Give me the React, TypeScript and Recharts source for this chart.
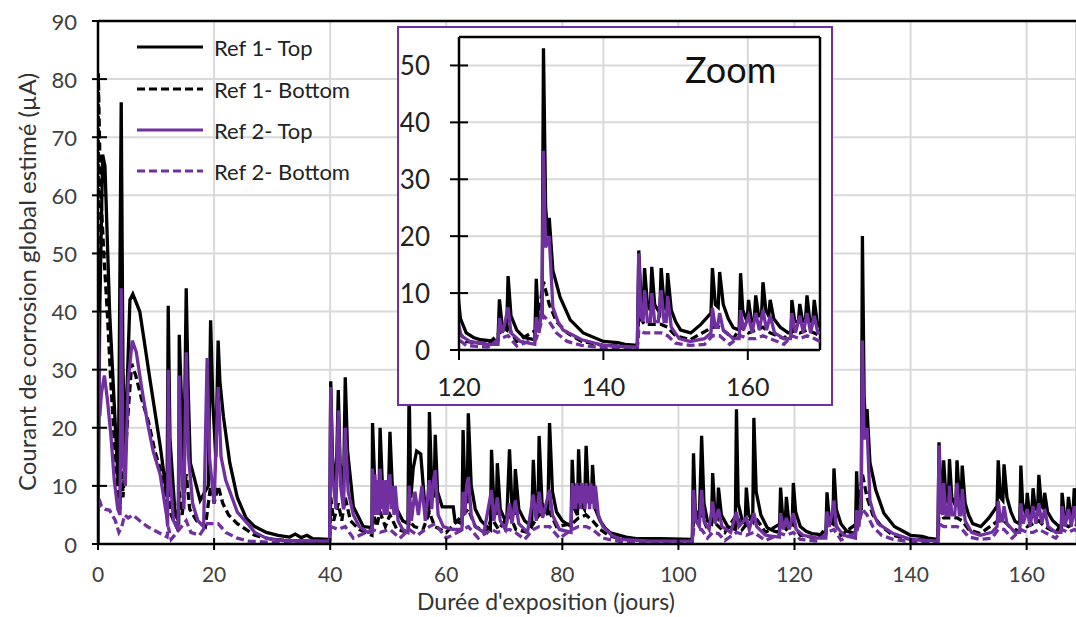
import { LineChart, Line, XAxis, YAxis, CartesianGrid, ReferenceLine } from "recharts";

const PURPLE = "#7030A0";
const FONT = "Lato, 'Open Sans', sans-serif";

const xTicks = [0, 20, 40, 60, 80, 100, 120, 140, 160];
const yTicks = [0, 10, 20, 30, 40, 50, 60, 70, 80, 90];
const zoomXTicks = [120, 140, 160];
const zoomYTicks = [0, 10, 20, 30, 40, 50];

const names = ["Ref 1- Top", "Ref 1- Bottom", "Ref 2- Top", "Ref 2- Bottom"];

// [jour, µA]
const ref1Top: [number, number][] = [
  [0, 0], [0.3, 40], [0.8, 67], [1.2, 65], [2.0, 40], [2.9, 22], [3.5, 10], [4.0, 76], [4.3, 30],
  [4.7, 17], [5.5, 42], [6.0, 43], [7.2, 40], [9.0, 28], [10.7, 17], [11.9, 8], [12.1, 41], [12.4, 18],
  [13.3, 5], [13.9, 4], [14.0, 36], [14.3, 27], [14.8, 13], [15.2, 44], [15.5, 28], [15.9, 14], [17.6, 7.5],
  [19.0, 10], [19.4, 38.5], [19.8, 24], [20.3, 15], [20.7, 35], [21.0, 28], [21.6, 22], [22.7, 14], [24, 8],
  [25.5, 4.5], [27, 3], [29, 2], [31, 1.5], [33, 1.2], [34, 1.7], [35, 1.1], [36, 1.5], [37, 0.9],
  [39.9, 0.8], [40.1, 28], [40.4, 15], [41.0, 9], [41.4, 26.5], [41.7, 14], [42.3, 9], [42.6, 28.7],
  [43.0, 16], [44, 6.4], [45.7, 3], [47.2, 2.8], [47.3, 20.8], [47.7, 10], [48.4, 7], [48.6, 20],
  [49.0, 10], [50.0, 7], [50.3, 19.3], [50.7, 10], [51.5, 6], [52.5, 4], [53.4, 3.5], [53.6, 27],
  [53.9, 8], [54.3, 13], [54.9, 16], [55.6, 15.5], [56.2, 8], [56.9, 5], [57.1, 22.7], [57.5, 10],
  [57.9, 8], [58.1, 18.8], [58.5, 9], [59.3, 6.4], [61.2, 6.4], [61.5, 4], [62.7, 3.5], [62.9, 19.6],
  [63.2, 9], [63.6, 7], [63.8, 22.5], [64.3, 10], [65, 6], [66, 4], [67, 3], [67.6, 2.5], [67.8, 16.2],
  [68.2, 7], [68.6, 5], [68.8, 13.9], [69.3, 6], [70.4, 3.5], [70.9, 16.3], [71.3, 7], [71.7, 5],
  [71.9, 12.9], [72.5, 6], [73.5, 4], [74.7, 3], [75.0, 14.5], [75.4, 6], [75.8, 5], [76.0, 18.6],
  [76.5, 7], [77.5, 5], [77.8, 20.8], [78.3, 9], [79, 5.5], [80, 4], [81.5, 3], [81.7, 14.5],
  [82.1, 6], [82.6, 5], [82.8, 16.3], [83.2, 7], [83.8, 6], [84.1, 16.9], [84.5, 8], [85.0, 7],
  [85.2, 13.6], [85.7, 6], [86.5, 4], [87.3, 2.8], [88.3, 1.9], [91, 1.2], [93, 0.9], [97, 0.9],
  [102.4, 0.8], [102.6, 15.6], [102.9, 6], [103.6, 4], [104.0, 18.6], [104.4, 7], [105.0, 4], [105.7, 3.5],
  [105.9, 12.2], [106.3, 5], [106.7, 4.5], [106.9, 9.7], [107.4, 5], [108.5, 3], [109.8, 2.5], [110.0, 23.2],
  [110.3, 7], [111.0, 4], [111.5, 3.5], [111.7, 9.7], [112.1, 5], [112.8, 4], [113.0, 21.7], [113.4, 9],
  [114.2, 5], [115.3, 2.8], [116.5, 2.2], [117.4, 2], [117.6, 9.7], [118.0, 4], [118.4, 3.5], [118.6, 8.1],
  [119.0, 4], [119.6, 3.5], [119.8, 10.5], [120.2, 5.5], [121, 3], [122, 2.2], [123, 1.8], [124.5, 1.6],
  [125.4, 1.7], [125.6, 8.9], [126.0, 4], [126.6, 3.5], [126.8, 13], [127.2, 6], [128, 3.5], [129, 2.2],
  [130.5, 1.8], [130.7, 12.5], [131.0, 5], [131.5, 6], [131.7, 53], [132.0, 25], [132.3, 20], [132.5, 23.2],
  [133.0, 14], [134.0, 9.3], [135.4, 5.3], [137.2, 3], [140, 1.5], [142, 1.3], [143, 1.0], [144.7, 0.8],
  [144.9, 17.5], [145.2, 9], [145.5, 7], [145.7, 14.4], [146.1, 8], [146.5, 7], [146.7, 14.6], [147.1, 8],
  [147.8, 6.5], [148.0, 14.4], [148.4, 8], [148.7, 7], [148.9, 13.5], [149.4, 7], [150.0, 5], [150.7, 3.5],
  [152.1, 3], [153.5, 4.5], [154.9, 6.5], [155.1, 14.4], [155.5, 8], [155.9, 7.5], [156.1, 13.7], [156.6, 8],
  [157.3, 5.5], [158.0, 3.9], [158.8, 3.5], [159.0, 13.5], [159.3, 7], [159.9, 5], [160.1, 8.8], [160.5, 5],
  [160.9, 5.5], [161.1, 9.6], [161.5, 6], [161.9, 6], [162.1, 11.9], [162.5, 7], [162.9, 6], [163.1, 8.8],
  [163.6, 5.5], [164.5, 4], [165.6, 3], [166.0, 3], [166.1, 8.8], [166.5, 5], [167.0, 5], [167.2, 8.1],
  [167.6, 5], [168.0, 5.5], [168.2, 9.6], [168.6, 5], [169.0, 5], [169.2, 8.8], [169.6, 5], [170, 4],
];

const ref1Bottom: [number, number][] = [
  [0, 0], [0.05, 81], [0.4, 62], [1.0, 50], [1.6, 40], [2.2, 28], [2.8, 18], [3.4, 10], [3.8, 6],
  [4.0, 20], [4.3, 8], [5.0, 20], [5.8, 31], [6.5, 29], [7.5, 25], [8.7, 21], [9.8, 16], [11.0, 12],
  [11.9, 7], [12.1, 12], [12.6, 5], [13.5, 3], [14.0, 9], [14.5, 5], [15.2, 12], [15.8, 6], [17, 4],
  [18.5, 3], [19.4, 10], [20.0, 7], [20.7, 10], [21.5, 7], [22.5, 5], [24, 3.5], [25.5, 2.5], [27, 1.5],
  [30, 0.8], [35, 0.5], [39.9, 0.5], [40.1, 8], [40.6, 4], [41.4, 7], [42.0, 4], [42.6, 8], [43.5, 4],
  [45, 2.5], [47.2, 1.5], [47.3, 6], [48, 3], [48.6, 5.5], [49.5, 3], [50.3, 5], [51.5, 2.5], [53.4, 2],
  [53.6, 4], [54.5, 3], [56, 2.5], [57.1, 5.5], [58, 3], [60, 2], [62.9, 5], [63.8, 6], [65, 3],
  [67, 2], [67.8, 4.5], [69, 2.5], [70.9, 5], [72, 2.5], [74, 2], [76.0, 5], [77.8, 5.5], [79, 3],
  [81.7, 3.5], [82.8, 4.5], [84.1, 5], [85.2, 4], [86.5, 2.5], [88, 1.5], [90, 0.8], [102.4, 0.6],
  [102.6, 4.5], [104.0, 5], [105.0, 2.5], [105.9, 4], [108, 2], [110.0, 5], [111, 2.5], [113.0, 5],
  [115, 2], [117.6, 3.5], [118.6, 2.5], [119.8, 3.5], [121, 1.5], [124, 1], [125.6, 3], [126.8, 4],
  [128, 1.5], [130.7, 3.5], [131.7, 12], [132.5, 8], [133.5, 5], [135, 3], [137, 1.5], [140, 0.8],
  [144.7, 0.6], [144.9, 6], [145.7, 4.5], [146.7, 4.5], [148.0, 4.5], [148.9, 4], [150, 2.5], [152, 1.8],
  [155.1, 4], [156.1, 4], [158, 2], [159.0, 4], [160.1, 3], [161.1, 3.5], [162.1, 4], [163.1, 3],
  [165, 2], [166.1, 3.5], [167.2, 3], [168.2, 3.5], [169.2, 3], [170, 2.5],
];

const ref2Top: [number, number][] = [
  [0, 0], [0.05, 40], [0.3, 22], [0.6, 26], [1.1, 29], [1.6, 25], [2.2, 19], [2.8, 11], [3.4, 6],
  [3.8, 5], [4.0, 44], [4.3, 15], [4.7, 10], [5.2, 28], [5.9, 35], [6.6, 33], [7.5, 27], [8.5, 21],
  [9.5, 16], [10.7, 12], [11.8, 5], [12.0, 3], [12.1, 30], [12.4, 12], [13.0, 4], [13.8, 2.5],
  [14.0, 29], [14.3, 15], [14.8, 6], [15.2, 33], [15.6, 15], [16.3, 7], [17.2, 4], [18.2, 3],
  [18.8, 32], [19.2, 15], [20.0, 7], [20.7, 27], [21.2, 15], [22.0, 11], [22.8, 8.8], [24, 5.5],
  [25.7, 3.6], [27, 2], [29, 1], [32, 0.6], [39.9, 0.5], [40.1, 27], [40.4, 12], [41.0, 6],
  [41.4, 23], [41.8, 10], [42.3, 6], [42.6, 20], [43.1, 9], [44, 5], [45, 3], [46.5, 2], [47.2, 2],
  [47.3, 13], [47.5, 5], [47.7, 12], [47.9, 5], [48.2, 11], [48.4, 5], [48.6, 13], [48.8, 6],
  [49.0, 11], [49.3, 5], [49.6, 11], [49.8, 5], [50.0, 10], [50.3, 12], [50.5, 6], [50.7, 10],
  [51.0, 5], [51.2, 10], [51.7, 4], [52.5, 2.5], [53.4, 2], [53.6, 10], [54.0, 4], [54.6, 9],
  [55.2, 5], [55.8, 10], [56.4, 4], [57.1, 11], [57.5, 6], [57.8, 11], [58.1, 12.7], [58.6, 5],
  [59.5, 3], [61, 2.5], [62.7, 2.5], [62.9, 9], [63.2, 5], [63.5, 10], [63.8, 11.5], [64.3, 5],
  [65, 3], [66.5, 2], [67.8, 9.3], [68.2, 4], [68.8, 8], [69.3, 4], [70.2, 2.5], [70.9, 7],
  [71.3, 3.5], [71.9, 7.5], [72.5, 3.5], [74, 2], [75.0, 8.5], [75.5, 4], [76.0, 9], [76.6, 4.5],
  [77.8, 9.3], [78.3, 5], [79.5, 2.5], [81.5, 2], [81.7, 10.5], [81.9, 6], [82.1, 10], [82.3, 6],
  [82.5, 10.5], [82.7, 7], [82.9, 10], [83.1, 6], [83.3, 10.5], [83.5, 7], [83.7, 10], [83.9, 6],
  [84.1, 10.5], [84.3, 7], [84.5, 10], [84.7, 6], [84.9, 10.5], [85.1, 7], [85.3, 10], [85.5, 6],
  [85.7, 10], [86.2, 5], [87, 3], [88.5, 1.5], [90, 0.8], [95, 0.5], [102.4, 0.5], [102.6, 9.3],
  [103.0, 4], [103.6, 3], [104.0, 9.3], [104.4, 4], [105.3, 2.5], [105.9, 7.3], [106.3, 3.5], [106.9, 6],
  [107.5, 3], [109, 2], [110.0, 5.5], [110.4, 3], [111.7, 4.5], [112.2, 2.5], [113.0, 5.3], [113.5, 3],
  [115, 1.5], [117.4, 1.2], [117.6, 5.3], [118.1, 2.5], [118.6, 4.5], [119.1, 2.5], [119.8, 5.3],
  [120.3, 2.5], [121.5, 1.5], [124, 1], [125.4, 1], [125.6, 5.6], [126.0, 3], [126.4, 5], [126.8, 7.5],
  [127.2, 3], [128.5, 1.5], [130.5, 1], [130.7, 5.8], [131.1, 3], [131.5, 8], [131.7, 35], [132.0, 18],
  [132.5, 20], [133.0, 7.5], [133.7, 5], [134.4, 3.5], [137, 1.8], [140, 0.8], [144.7, 0.5], [144.9, 17],
  [145.2, 6], [145.5, 5], [145.7, 10.5], [146.1, 5], [146.5, 5], [146.7, 10], [147.1, 5], [147.6, 5],
  [148.0, 10.5], [148.4, 5], [148.7, 5], [148.9, 9.5], [149.4, 4], [150.5, 2], [152, 1.5], [154, 2],
  [154.9, 3], [155.1, 7.4], [155.5, 4], [155.8, 4], [156.1, 6.5], [156.6, 3.5], [158, 2], [158.8, 2],
  [159.0, 7], [159.4, 3.5], [160.1, 6], [160.6, 3], [161.1, 6.5], [161.6, 3.5], [162.1, 7], [162.6, 3.5],
  [163.1, 6], [163.7, 3], [165, 2], [165.9, 2], [166.1, 6.5], [166.6, 3], [167.2, 6], [167.7, 3],
  [168.2, 6.5], [168.7, 3], [169.2, 6], [169.7, 3], [170, 3],
];

const ref2Bottom: [number, number][] = [
  [0, 0], [0.1, 8], [0.6, 6.5], [1.2, 6], [2.0, 5.8], [3.0, 4], [3.6, 2], [4.1, 3], [4.6, 5],
  [5.2, 4.5], [6.0, 5], [7.2, 4], [8.5, 3], [10, 2.2], [11.9, 1.2], [12.1, 3], [12.6, 0.8], [14.0, 2.5],
  [15.2, 4], [16, 2], [17.5, 1.5], [18.8, 3.5], [20.7, 3.5], [22, 2], [24, 1], [26, 0.5], [30, 0.3],
  [39.9, 0.3], [40.1, 3], [41.4, 2.5], [42.6, 3], [44, 1], [47.3, 2.5], [48.6, 2], [50.3, 2.5], [52, 1],
  [53.6, 2.5], [55, 1.5], [57.1, 3], [58.1, 3.5], [60, 1], [62.9, 2.5], [63.8, 3], [65.5, 1], [67.8, 2.5],
  [68.8, 2], [70.9, 2.5], [71.9, 2], [73.5, 0.8], [75.0, 2.5], [76.0, 3], [77.8, 3], [79.5, 1],
  [81.7, 2.5], [82.8, 3], [84.1, 3], [85.2, 2.5], [87, 1], [90, 0.4], [102.4, 0.3], [102.6, 2.5],
  [104.0, 2.5], [105, 1], [105.9, 2], [106.9, 1.8], [108, 0.6], [110.0, 2], [111.7, 1.5], [113.0, 2],
  [115, 0.6], [117.6, 1.8], [118.6, 1.5], [119.8, 2], [121, 0.8], [124, 0.5], [125.6, 2], [126.8, 2.5],
  [128, 0.7], [130.7, 2], [131.7, 6], [132.5, 5], [133.5, 3], [135, 1.5], [137, 0.8], [140, 0.4],
  [144.7, 0.3], [144.9, 3.5], [145.7, 3], [146.7, 3], [148.0, 3], [148.9, 2.5], [150, 1.2], [152, 0.8],
  [154, 1], [155.1, 2.5], [156.1, 2.5], [157.5, 1], [159.0, 2.5], [160.1, 2], [161.1, 2], [162.1, 2.5],
  [163.1, 2], [165, 1], [166.1, 2.5], [167.2, 2], [168.2, 2.5], [169.2, 2], [170, 1.5],
];

const toRows = (s: [number, number][]) => s.map(([day, v]) => ({ day, v }));

const series = [
  { name: names[0], rows: toRows(ref1Top), color: "#000", dash: undefined as string | undefined },
  { name: names[1], rows: toRows(ref1Bottom), color: "#000", dash: "8 4" },
  { name: names[2], rows: toRows(ref2Top), color: PURPLE, dash: undefined as string | undefined },
  { name: names[3], rows: toRows(ref2Bottom), color: PURPLE, dash: "8 4" },
];

const MainYTick = ({ x, y, payload }: any) => (
  <g>
    <line x1={x - 6} x2={x + 9} y1={y} y2={y} stroke="#000" strokeWidth={2} />
    <text x={x - 21} y={y} textAnchor="end" dominantBaseline="central" fontSize={22} fill="#404040" fontFamily={FONT}>
      {payload.value}
    </text>
  </g>
);

const MainXTick = ({ x, y, payload }: any) => (
  <g>
    <line x1={x} x2={x} y1={y - 6} y2={y + 6} stroke="#000" strokeWidth={2} />
    <text x={x} y={y + 29} textAnchor="middle" dominantBaseline="central" fontSize={21} fill="#404040" fontFamily={FONT}>
      {payload.value}
    </text>
  </g>
);

const ZoomYTick = ({ x, y, payload }: any) => (
  <g>
    <line x1={x - 9} x2={x + 9} y1={y} y2={y} stroke="#000" strokeWidth={2} />
    <text x={x - 29} y={y} textAnchor="end" dominantBaseline="central" fontSize={26} fill="#222" fontFamily={FONT}>
      {payload.value}
    </text>
  </g>
);

const ZoomXTick = ({ x, y, payload }: any) => (
  <g>
    <line x1={x} x2={x} y1={y} y2={y + 10} stroke="#000" strokeWidth={2} />
    <text x={x} y={y + 36} textAnchor="middle" dominantBaseline="central" fontSize={25} fill="#222" fontFamily={FONT}>
      {payload.value}
    </text>
  </g>
);

function MainChart() {
  return (
    <LineChart width={1076} height={617} margin={{ top: 21, right: 0, bottom: 0, left: 0 }}>
      <CartesianGrid stroke="#d9d9d9" strokeWidth={2} />
      <XAxis
        type="number"
        dataKey="day"
        domain={[0, 168.5]}
        ticks={xTicks}
        allowDataOverflow
        height={73}
        tickSize={0}
        tickMargin={0}
        tick={(p: any) => <MainXTick {...p} />}
        axisLine={{ stroke: "#000", strokeWidth: 2.5 }}
      />
      <YAxis
        type="number"
        domain={[0, 90]}
        ticks={yTicks}
        width={98}
        tickSize={0}
        tickMargin={0}
        tick={(p: any) => <MainYTick {...p} />}
        axisLine={{ stroke: "#000", strokeWidth: 2.5 }}
      />
      <ReferenceLine y={90} stroke="#000" strokeWidth={2.5} />
      {series.map((s) => (
        <Line
          key={s.name}
          data={s.rows}
          dataKey="v"
          name={s.name}
          type="linear"
          stroke={s.color}
          strokeWidth={3.3}
          strokeDasharray={s.dash}
          dot={false}
          activeDot={false}
          isAnimationActive={false}
        />
      ))}
    </LineChart>
  );
}

function ZoomChart() {
  return (
    <LineChart width={432} height={376} margin={{ top: 9, right: 11, bottom: 0, left: 0 }}>
      <CartesianGrid stroke="#d9d9d9" strokeWidth={2} />
      <XAxis
        type="number"
        dataKey="day"
        domain={[120, 170]}
        ticks={zoomXTicks}
        allowDataOverflow
        height={54}
        tickSize={0}
        tickMargin={0}
        tick={(p: any) => <ZoomXTick {...p} />}
        axisLine={{ stroke: "#000", strokeWidth: 2.5 }}
      />
      <YAxis
        type="number"
        domain={[0, 55]}
        ticks={zoomYTicks}
        width={60}
        tickSize={0}
        tickMargin={0}
        tick={(p: any) => <ZoomYTick {...p} />}
        axisLine={{ stroke: "#000", strokeWidth: 2.5 }}
      />
      <ReferenceLine y={55} stroke="#000" strokeWidth={2.5} />
      <ReferenceLine x={170} stroke="#000" strokeWidth={2.5} />
      {series.map((s) => (
        <Line
          key={s.name}
          data={s.rows.filter((r) => r.day >= 118)}
          dataKey="v"
          name={s.name}
          type="linear"
          stroke={s.color}
          strokeWidth={3.3}
          strokeDasharray={s.dash}
          dot={false}
          activeDot={false}
          isAnimationActive={false}
        />
      ))}
    </LineChart>
  );
}

const legendRows = [14, 56, 97, 138];

export default function App() {
  return (
    <div style={{ position: "absolute", left: 0, top: 0, width: 1076, height: 617, background: "#fff", fontFamily: FONT }}>
      <MainChart />
      <div
        style={{
          position: "absolute",
          left: 397,
          top: 26,
          width: 436,
          height: 380,
          boxSizing: "border-box",
          border: `2px solid ${PURPLE}`,
          background: "#fff",
        }}
      >
        <ZoomChart />
        <div style={{ position: "absolute", left: 286, top: 23, fontSize: 36, color: "#111", lineHeight: 1 }}>Zoom</div>
      </div>
      <svg style={{ position: "absolute", left: 137, top: 33 }} width={250} height={160}>
        {series.map((s, i) => (
          <g key={s.name}>
            <line x1={0} x2={66} y1={legendRows[i]} y2={legendRows[i]} stroke={s.color} strokeWidth={3} strokeDasharray={s.dash} />
            <text x={77} y={legendRows[i]} dominantBaseline="central" fontSize={22} fill="#222" fontFamily={FONT}>
              {s.name}
            </text>
          </g>
        ))}
      </svg>
      <svg style={{ position: "absolute", left: 0, top: 0, pointerEvents: "none" }} width={1076} height={617}>
        <text x={546} y={610} textAnchor="middle" fontSize={23} fill="#333" fontFamily={FONT}>
          Durée d'exposition (jours)
        </text>
        <text
          transform="translate(26 282) rotate(-90)"
          textAnchor="middle"
          dominantBaseline="central"
          fontSize={24}
          fill="#333"
          fontFamily={FONT}
        >
          Courant de corrosion global estimé  (µA)
        </text>
      </svg>
    </div>
  );
}
